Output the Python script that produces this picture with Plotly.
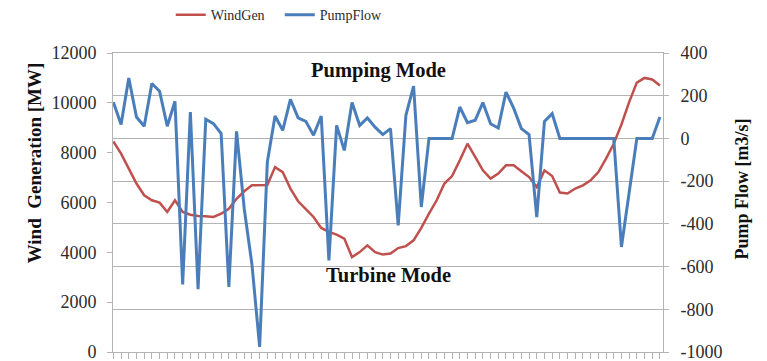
import plotly.graph_objects as go

steps = list(range(72))

wind_gen = [8450, 7960, 7360, 6760, 6290, 6090, 5995, 5620, 6090, 5620,
            5510, 5460, 5445, 5420, 5550, 5750, 6150, 6450, 6690, 6690,
            6700, 7420, 7220, 6560, 6050, 5730, 5420, 4980, 4820, 4710,
            4550, 3810, 4010, 4280, 4010, 3910, 3950, 4170, 4250, 4480,
            4980, 5550, 6090, 6760, 7060, 7690, 8360, 7830, 7290, 6960,
            7160, 7490, 7490, 7250, 7020, 6620, 7290, 7060, 6400, 6360,
            6560, 6690, 6890, 7220, 7760, 8360, 9130, 10030, 10810, 11000,
            10940, 10700]

pump_flow = [170, 65, 283, 100, 57, 257, 221, 57, 174, -684,
             124, -706, 90, 69, 23, -695, 33, -330, -590, -976,
             -110, 105, 38, 183, 96, 80, 15, 105, -571, 61,
             -56, 168, 61, 96, 53, 18, 46, -407, 108, 245,
             -321, 0, 0, 0, 0, 147, 74, 85, 168, 69,
             49, 217, 142, 46, 18, -368, 80, 116, 0, 0,
             0, 0, 0, 0, 0, 0, -508, -250, 0, 0,
             0, 100]

left_ticks = [0, 2000, 4000, 6000, 8000, 10000, 12000]
left_labels = ["0", "2000", "4000", "6000", "8000", "10000", "12000"]
right_ticks = [-1000, -800, -600, -400, -200, 0, 200, 400]
right_labels = ["-1000", "-800", "-600", "-400", "-200", "0", "200", "400"]

SERIF = "Liberation Serif, Times New Roman, serif"
GRID = "#b4b4b4"
TXT = "#2b2b2b"

# the page body has an 8px margin; the figure is sized to fill the rest
fig = go.Figure()
fig.add_trace(go.Scatter(x=steps, y=wind_gen, name="WindGen", mode="lines",
                         line=dict(color="#c0504d", width=2.5), yaxis="y"))
fig.add_trace(go.Scatter(x=steps, y=pump_flow, name="PumpFlow", mode="lines",
                         line=dict(color="#4a7ebb", width=3), yaxis="y2"))

fig.update_layout(
    width=759, height=353,
    margin=dict(l=105, r=104, t=45, b=9, autoexpand=False),
    paper_bgcolor="white", plot_bgcolor="white",
    font=dict(family=SERIF, size=16, color=TXT),
    showlegend=True,
    legend=dict(orientation="h", x=0.105, xanchor="left", y=1.127, yanchor="middle",
                font=dict(family=SERIF, size=14, color=TXT), itemwidth=30,
                entrywidth=64, entrywidthmode="pixels",
                bgcolor="rgba(0,0,0,0)"),
    xaxis=dict(range=[-0.05, 71.4], showticklabels=False, ticks="outside",
               tickmode="linear", tick0=0, dtick=1, ticklen=6, tickcolor=GRID,
               showline=True, mirror=True, linecolor=GRID, linewidth=1, showgrid=False,
               zeroline=False),
    yaxis=dict(range=[0, 12000], tickvals=left_ticks, ticktext=left_labels,
               ticks="outside", ticklen=5, ticklabeloverflow="allow",
               tickcolor=GRID, showline=True, linecolor=GRID, showgrid=False,
               zeroline=False, tickfont=dict(family=SERIF, size=18, color=TXT),
               ticklabelstandoff=7),
    yaxis2=dict(range=[-1000, 400], tickvals=right_ticks, ticktext=right_labels,
                ticks="outside", ticklen=5, ticklabeloverflow="allow",
                tickcolor=GRID, overlaying="y", side="right", showline=True,
                linecolor=GRID, showgrid=True, gridcolor=GRID, gridwidth=1,
                zeroline=False, tickfont=dict(family=SERIF, size=18, color=TXT),
                ticklabelstandoff=8),
    annotations=[
        dict(text="<b>Pumping Mode</b>", x=0.482, y=0.942, xref="paper", yref="paper",
             xanchor="center", yanchor="middle", showarrow=False,
             font=dict(family=SERIF, size=20.5, color="#111111")),
        dict(text="<b>Turbine Mode</b>", x=0.5, y=0.2565, xref="paper", yref="paper",
             xanchor="center", yanchor="middle", showarrow=False,
             font=dict(family=SERIF, size=20.5, color="#111111")),
        dict(text="<b>Wind  Generation [MW]</b>", x=-0.1436, y=0.631, xref="paper",
             yref="paper", xanchor="center", yanchor="middle", showarrow=False,
             textangle=-90, font=dict(family=SERIF, size=19, color="#111111")),
        dict(text="<b>Pump Flow [m3/s]</b>", x=1.143, y=0.546, xref="paper",
             yref="paper", xanchor="center", yanchor="middle", showarrow=False,
             textangle=-90, font=dict(family=SERIF, size=18, color="#111111")),
    ],
)

fig.write_html("out.html")
